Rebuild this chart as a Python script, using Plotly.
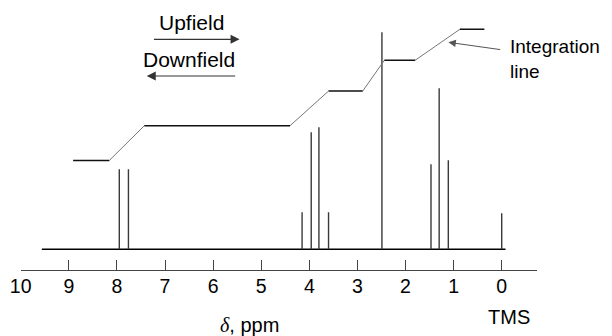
import plotly.graph_objects as go

# ---- data ----
peak_ppm = [7.95, 7.76, 4.15, 3.96, 3.80, 3.60, 2.49, 1.47, 1.30, 1.11, 0.0]
peak_height = [80, 80, 37, 117, 122, 37, 217, 85, 161, 89, 36]

baseline_ppm = [9.56, -0.08]

integ_ppm = [8.91, 8.16, 7.43, 4.40, 3.60, 2.89, 2.44, 1.80, 0.87, 0.36]
integ_height = [88.7, 88.7, 123.6, 123.6, 158.2, 158.2, 189.0, 189.0, 220.0, 220.0]

tick_vals = [10, 9, 8, 7, 6, 5, 4, 3, 2, 1, 0]
tick_text = ["10", "9", "8", "7", "6", "5", "4", "3", "2", "1", "0"]

# page has an 8px body margin -> figure is offset by 8px
OFF = 8
W, H = 612 - OFF, 336 - OFF
FONT = "Liberation Sans, Arial, Helvetica, sans-serif"


def pxx(x):
    return (x - OFF) / W


def pxy(y):
    return 1 - (y - OFF) / H


fig = go.Figure()

# baseline
fig.add_trace(go.Scatter(x=baseline_ppm, y=[0, 0], mode="lines",
                         line=dict(color="#000000", width=1.5),
                         hoverinfo="skip", showlegend=False))

# peaks
px, py = [], []
for p, h in zip(peak_ppm, peak_height):
    px += [p, p, None]
    py += [0, h, None]
fig.add_trace(go.Scatter(x=px, y=py, mode="lines",
                         line=dict(color="#3a3a3a", width=1.4),
                         hoverinfo="skip", showlegend=False))

# integration line: flats (dark) and slopes (thin grey)
fx, fy, sx, sy = [], [], [], []
for i in range(len(integ_ppm) - 1):
    seg_x = [integ_ppm[i], integ_ppm[i + 1], None]
    seg_y = [integ_height[i], integ_height[i + 1], None]
    if i % 2 == 0:
        fx += seg_x; fy += seg_y
    else:
        sx += seg_x; sy += seg_y
fig.add_trace(go.Scatter(x=sx, y=sy, mode="lines",
                         line=dict(color="#777777", width=1.0),
                         hoverinfo="skip", showlegend=False))
fig.add_trace(go.Scatter(x=fx, y=fy, mode="lines",
                         line=dict(color="#111111", width=1.5),
                         hoverinfo="skip", showlegend=False))

TF = dict(family=FONT, size=21, color="#000")
TF2 = dict(family=FONT, size=20, color="#000")
annotations = [
    # Upfield / Downfield
    dict(x=6.44, y=226.5, xref="x", yref="y", text="Upfield", showarrow=False, font=TF),
    dict(x=5.45, y=210, ax=7.26, ay=210, xref="x", yref="y", axref="x", ayref="y",
         text="", showarrow=True, arrowhead=2, arrowsize=1.5, arrowwidth=1.2,
         arrowcolor="#333"),
    dict(x=6.50, y=190, xref="x", yref="y", text="Downfield", showarrow=False, font=TF),
    dict(x=7.38, y=173.3, ax=5.51, ay=173.3, xref="x", yref="y", axref="x", ayref="y",
         text="", showarrow=True, arrowhead=2, arrowsize=1.5, arrowwidth=1.2,
         arrowcolor="#333"),
    # Integration line label
    dict(x=1.11, y=207, ax=0.0, ay=199.5, xref="x", yref="y", axref="x", ayref="y",
         text="", showarrow=True, arrowhead=2, arrowsize=1.5, arrowwidth=1.0,
         arrowcolor="#555"),
    dict(x=pxx(508), y=pxy(59), xref="paper", yref="paper", xanchor="left",
         yanchor="middle", align="left", text="Integration<br>line",
         showarrow=False, font=dict(family=FONT, size=19, color="#000")),
    # TMS and axis title
    dict(x=pxx(509), y=pxy(317), xref="paper", yref="paper", xanchor="center",
         yanchor="middle", text="TMS", showarrow=False, font=TF2),
    dict(x=pxx(249), y=pxy(324.5), xref="paper", yref="paper", xanchor="center",
         yanchor="middle",
         text="<span style='font-family:Liberation Serif, Times New Roman, serif'><i>δ</i></span>, ppm",
         showarrow=False, font=TF2),
]

fig.update_layout(
    width=W, height=H,
    margin=dict(l=0, r=0, t=0, b=0, autoexpand=False),
    paper_bgcolor="white", plot_bgcolor="white",
    showlegend=False,
    annotations=annotations,
    xaxis=dict(
        domain=[pxx(20.7), pxx(536.7)],
        range=[10, -0.7277],
        tickmode="array", tickvals=tick_vals, ticktext=tick_text,
        ticks="inside", ticklen=10, tickwidth=1.2, tickcolor="#444",
        showline=True, linecolor="#444", linewidth=1.3,
        showgrid=False, zeroline=False,
        anchor="free", position=pxy(270.3),
        tickfont=dict(family=FONT, size=19.5, color="#000"),
        ticklabelstandoff=-2,
        automargin=False,
    ),
    yaxis=dict(
        domain=[0, 1], range=[-(H - (249.3 - OFF)), 249.3 - OFF],
        visible=False, showgrid=False, zeroline=False,
    ),
)

fig.write_html("out.html")
